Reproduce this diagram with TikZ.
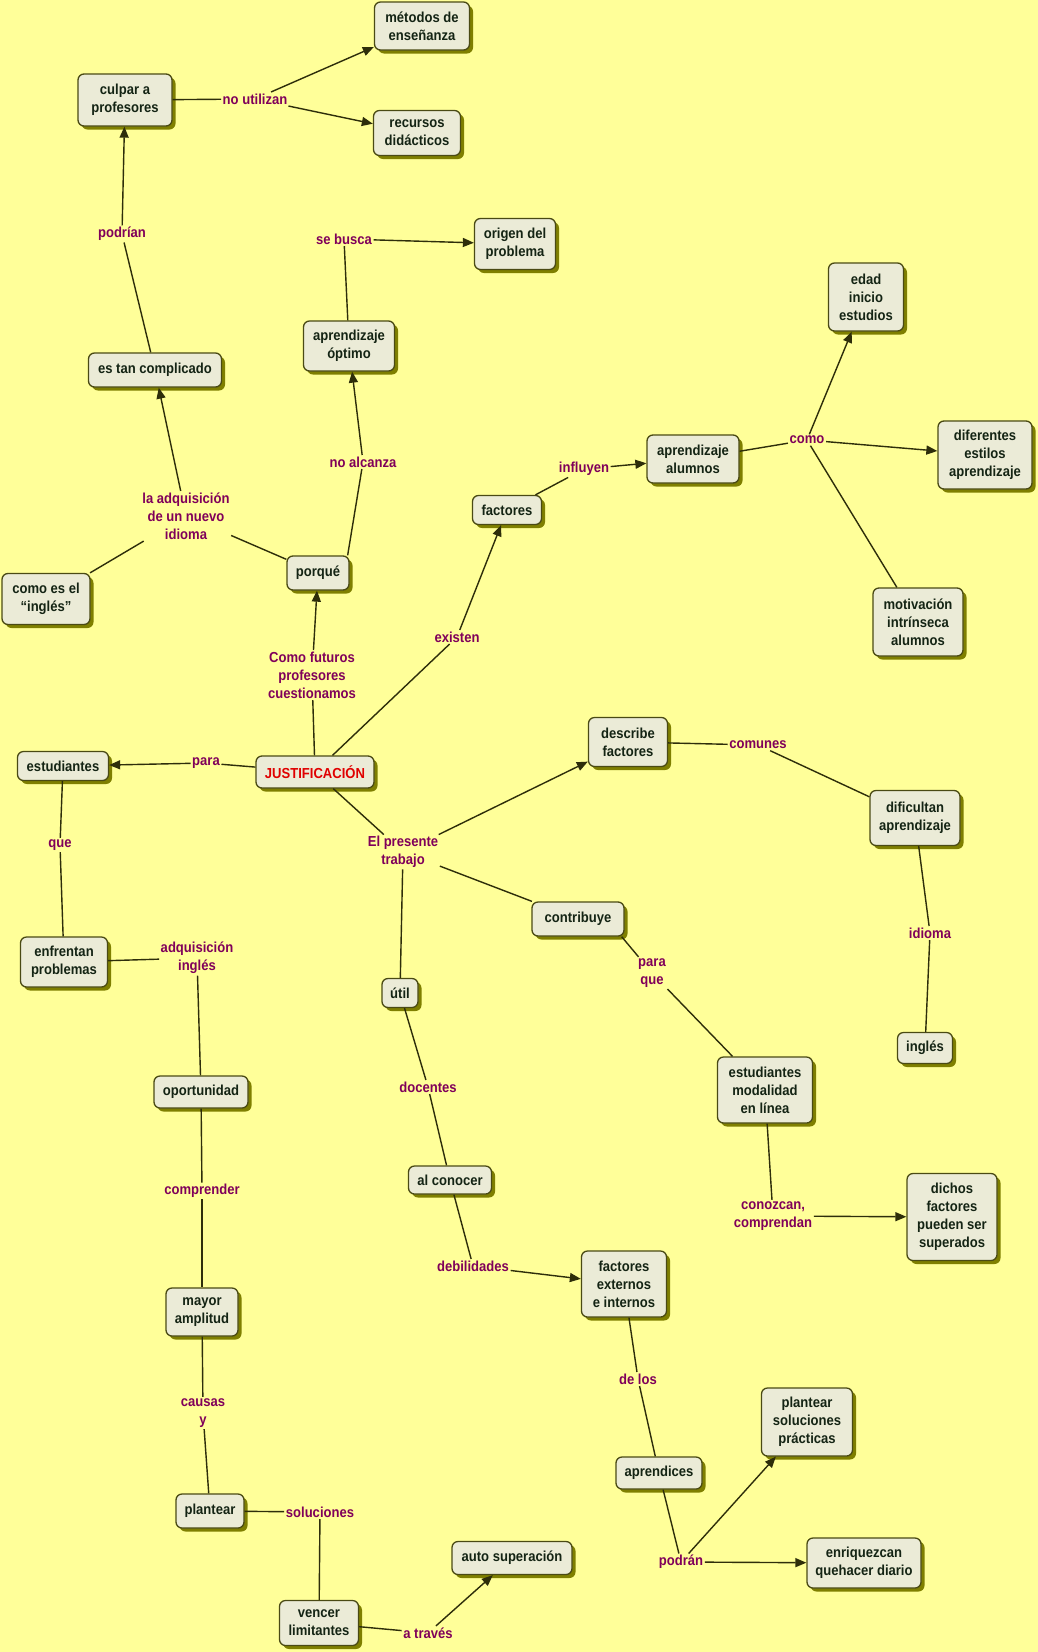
\documentclass[tikz,border=0pt]{standalone}
\usepackage{fontspec}
\newfontfamily\cmapfont{Liberation Sans}[FakeStretch=0.9]
\usetikzlibrary{shadows,arrows.meta}
\definecolor{bgc}{HTML}{FFFF99}
\definecolor{boxfill}{HTML}{EBEBD7}
\definecolor{boxline}{HTML}{4A4A14}
\definecolor{shadowc}{HTML}{7F7F00}
\definecolor{boxtext}{HTML}{142414}
\definecolor{labtext}{HTML}{80005A}
\definecolor{linec}{HTML}{2E2E0A}
\definecolor{redtext}{HTML}{E00000}
\newcommand\cmfnt{\cmapfont\bfseries\fontsize{14.5}{18}\selectfont}
\tikzset{
  cbox/.style={draw=boxline, fill=boxfill, line width=1.3pt, rounded corners=6pt,
    text=boxtext, align=center, inner sep=1pt, font=\cmfnt,
    drop shadow={shadow xshift=3.5pt, shadow yshift=-3.5pt, fill=shadowc, opacity=1}},
  clab/.style={text=labtext, align=center, inner sep=1.5pt, font=\cmfnt},
  conn/.style={draw=linec, line width=1.4pt},
  arr/.style={conn, -{Triangle[length=11pt,width=9pt]}},
}
\newcommand\bx[5]{\node[cbox, minimum width=#3pt, minimum height=#4pt] (#1) at (#2) {#5};}
\newcommand\lb[3]{\node[clab] (#1) at (#2) {#3};}
\begin{document}
\begin{tikzpicture}[x=1pt,y=-1pt]
\fill[bgc] (0,0) rectangle (1038,1652);
\useasboundingbox (0,0) rectangle (1038,1652);
% boxes
\bx{culpar}{125,100}{94}{52}{culpar a\\profesores}
\bx{metodos}{422,26}{95}{48}{métodos de\\enseñanza}
\bx{recursos}{417,133}{87}{45}{recursos\\didácticos}
\bx{origen}{515,244}{81}{51}{origen del\\problema}
\bx{optimo}{349,346}{91}{50}{aprendizaje\\óptimo}
\bx{compl}{155,370}{133}{34}{es tan complicado}
\bx{edad}{866,297}{75}{68}{edad\\inicio\\estudios}
\bx{factores}{507,510}{69}{29}{factores}
\bx{porque}{318,573}{62}{34}{porqué}
\bx{comoes}{46,599}{88}{51}{como es el\\“inglés”}
\bx{estud}{63,766}{91}{29}{estudiantes}
\node[cbox, minimum width=118pt, minimum height=32pt, text=redtext] (just) at (315,772) {JUSTIFICACIÓN};
\bx{aprend}{693,459}{92}{48}{aprendizaje\\alumnos}
\bx{diferentes}{985,455}{94}{68}{diferentes\\estilos\\aprendizaje}
\bx{motiv}{918,622}{90}{68}{motivación\\intrínseca\\alumnos}
\bx{describe}{628,742}{79}{49}{describe\\factores}
\bx{dificultan}{915,818}{90}{55}{dificultan\\aprendizaje}
\bx{enfrentan}{64,962}{87}{50}{enfrentan\\problemas}
\bx{util}{400,993}{36}{29}{útil}
\bx{oportun}{201,1092}{94}{32}{oportunidad}
\bx{alconocer}{450,1180}{83}{28}{al conocer}
\bx{contribuye}{578,919}{92}{34}{contribuye}
\bx{ingles}{925,1048}{55}{31}{inglés}
\bx{estmod}{765,1090}{95}{66}{estudiantes\\modalidad\\en línea}
\bx{dichos}{952,1217}{90}{87}{dichos\\factores\\pueden ser\\superados}
\bx{facext}{624,1284}{85}{66}{factores\\externos\\e internos}
\bx{mayor}{202,1312}{72}{48}{mayor\\amplitud}
\bx{plantear}{210,1511}{68}{34}{plantear}
\bx{vencer}{319,1623}{79}{45}{vencer\\limitantes}
\bx{auto}{512,1558}{120}{33}{auto superación}
\bx{aprendices}{659,1473}{86}{32}{aprendices}
\bx{plsol}{807,1422}{91}{68}{plantear\\soluciones\\prácticas}
\bx{enriq}{864,1563}{114}{50}{enriquezcan\\quehacer diario}
% labels
\lb{lnoutil}{255,99}{no utilizan}
\lb{lpodrian}{122,234}{podrían}
\lb{lsebusca}{344,239}{se busca}
\lb{ladq}{186,516}{la adquisición\\de un nuevo\\idioma}
\lb{lnoalc}{363,462}{no alcanza}
\lb{lexisten}{457,637}{existen}
\lb{lcomofut}{312,675}{Como futuros\\profesores\\cuestionamos}
\lb{lpara}{206,763}{para}
\lb{linfluyen}{584,469}{influyen}
\lb{lcomo}{807,440}{como}
\lb{lcomunes}{758,745}{comunes}
\lb{lque}{60,845}{que}
\lb{ladqing}{197,958}{adquisición\\inglés}
\lb{lpresente}{403,852}{El presente\\trabajo}
\lb{ldocentes}{428,1087}{docentes}
\lb{lcomprender}{202,1191}{comprender}
\lb{lparaque}{652,973}{para\\que}
\lb{lidioma}{930,933}{idioma}
\lb{lconozcan}{773,1216}{conozcan,\\comprendan}
\lb{ldebil}{473,1266}{debilidades}
\lb{lcausas}{203,1413}{causas\\y}
\lb{lsoluciones}{320,1512}{soluciones}
\lb{latraves}{428,1633}{a través}
\lb{ldelos}{638,1379}{de los}
\lb{lpodran}{681,1562}{podrán}
% connectors
\draw[conn] (culpar) -- (lnoutil);
\draw[arr] (lnoutil) -- (metodos);
\draw[arr] (lnoutil) -- (recursos);
\draw[conn] (compl) -- (lpodrian);
\draw[arr] (lpodrian) -- (culpar);
\draw[conn] (porque) -- (ladq);
\draw[arr] (ladq) -- (compl);
\draw[conn] (ladq) -- (comoes);
\draw[conn] ([xshift=-2pt]porque.north east) -- (lnoalc);
\draw[arr] (lnoalc) -- (optimo);
\draw[conn] (optimo) -- (lsebusca);
\draw[arr] (lsebusca) -- (origen);
\draw[conn] (just) -- (lcomofut);
\draw[arr] (lcomofut) -- (porque);
\draw[conn] (just) -- (lexisten);
\draw[arr] (lexisten) -- (factores);
\draw[conn] (factores) -- (linfluyen);
\draw[arr] (linfluyen) -- (aprend);
\draw[conn] (aprend) -- (lcomo);
\draw[arr] (lcomo) -- (edad);
\draw[arr] (lcomo) -- (diferentes);
\draw[conn] (lcomo) -- (motiv);
\draw[conn] (just) -- (lpara);
\draw[arr] (lpara) -- (estud);
\draw[conn] (estud) -- (lque);
\draw[conn] (lque) -- (enfrentan);
\draw[conn] (enfrentan) -- (ladqing);
\draw[conn] (ladqing) -- (oportun);
\draw[conn] (oportun) -- (lcomprender);
\draw[conn] (lcomprender) -- (mayor);
\draw[conn] (mayor) -- (lcausas);
\draw[conn] (lcausas) -- (plantear);
\draw[conn] (plantear) -- (lsoluciones);
\draw[conn] (lsoluciones) -- (vencer);
\draw[conn] (vencer) -- (latraves);
\draw[arr] (latraves) -- (auto);
\draw[conn] (just) -- (lpresente);
\draw[arr] (lpresente) -- (describe);
\draw[conn] (lpresente) -- (util);
\draw[conn] (lpresente) -- (contribuye);
\draw[conn] (describe) -- (lcomunes);
\draw[conn] (lcomunes) -- (dificultan);
\draw[conn] (dificultan) -- (lidioma);
\draw[conn] (lidioma) -- (ingles);
\draw[conn] ([xshift=-3pt]contribuye.south east) -- (lparaque);
\draw[conn] (lparaque) -- (estmod);
\draw[conn] (estmod) -- (lconozcan);
\draw[arr] (lconozcan) -- (dichos);
\draw[conn] (util) -- (ldocentes);
\draw[conn] (ldocentes) -- (alconocer);
\draw[conn] (alconocer) -- (ldebil);
\draw[arr] (ldebil) -- (facext);
\draw[conn] (facext) -- (ldelos);
\draw[conn] (ldelos) -- (aprendices);
\draw[conn] (aprendices) -- (lpodran);
\draw[arr] (lpodran) -- (plsol);
\draw[arr] (lpodran) -- (enriq);
\end{tikzpicture}
\end{document}
